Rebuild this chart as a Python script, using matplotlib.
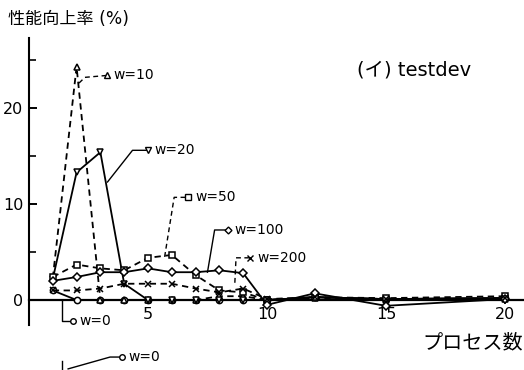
import matplotlib

matplotlib.use("Agg")
import matplotlib.pyplot as plt
from matplotlib.ticker import MultipleLocator

plt.rcParams["font.family"] = ["DejaVu Sans", "Noto Sans CJK JP"]

# process counts and performance gain (%) per window size w
procs = [1, 2, 3, 4, 5, 6, 7, 8, 9, 10, 12, 15, 20]
gain_w0 = [1.0, 0, 0, 0, 0, 0, 0, 0, 0, 0, 0.3, 0.1, 0.2]
gain_w10 = [2.3, 24.3, 0, 0, 0, 0, 0, 0.4, 0.4, 0, 0.2, 0.0, 0.1]
gain_w20 = [2.2, 13.3, 15.4, 1.7, 0, 0, 0, 0, 0, 0, 0.3, 0.1, 0.2]
gain_w50 = [2.4, 3.7, 3.3, 3.1, 4.4, 4.7, 2.6, 1.0, 0.8, 0, 0.3, 0.2, 0.4]
gain_w100 = [2.0, 2.4, 2.9, 2.9, 3.3, 2.9, 2.9, 3.1, 2.8, -0.5, 0.7, -0.6, 0.1]
gain_w200 = [1.0, 1.0, 1.2, 1.7, 1.7, 1.7, 1.2, 0.8, 1.2, 0.1, 0.3, 0.1, 0.2]

series = [
    ("w=0", gain_w0, "o", "-"),
    ("w=10", gain_w10, "^", "--"),
    ("w=20", gain_w20, "v", "-"),
    ("w=50", gain_w50, "s", "--"),
    ("w=100", gain_w100, "D", "-"),
    ("w=200", gain_w200, "x", "--"),
]

# leader line path for each label (start on curve -> bend -> marker)
leaders = {
    "w=0": ([1.4, 1.4, 1.85], [0.0, -2.2, -2.2]),
    "w=10": ([2.1, 2.35, 3.28], [22.6, 23.2, 23.4]),
    "w=20": ([3.3, 4.35, 5.0], [12.3, 15.6, 15.6]),
    "w=50": ([5.7, 6.1, 6.7], [4.5, 10.7, 10.7]),
    "w=100": ([7.5, 7.8, 8.35], [2.9, 7.3, 7.3]),
    "w=200": ([8.65, 8.7, 9.3], [1.8, 4.4, 4.4]),
}

fig = plt.figure(figsize=(5.24, 3.70), dpi=100)
ax = fig.add_axes([0.0553, 0.1216, 0.9447, 0.7757])

dash = (0, (3.5, 2.5))
for label, vals, marker, ls in series:
    style = dash if ls == "--" else "-"
    ax.plot(procs, vals, color="black", lw=1.3, linestyle=style, marker=marker,
            ms=4.5 if marker != "D" else 3.8, mfc="white", mec="black", mew=1.1,
            clip_on=False, zorder=3)
    lx, ly = leaders[label]
    ax.plot(lx, ly, color="black", lw=1.0, linestyle=style, zorder=4)
    ax.plot(lx[-1], ly[-1], marker=marker, ms=4.0 if marker != "D" else 3.5,
            mfc="white", mec="black", mew=1.0, color="black", zorder=5)
    ax.text(lx[-1] + 0.28, ly[-1], label, fontsize=10, va="center", ha="left")

ax.set_xlim(0, 20.8)
ax.set_ylim(-2.6, 27.3)

for side in ("top", "right"):
    ax.spines[side].set_visible(False)
ax.spines["bottom"].set_position(("data", 0))
ax.spines["bottom"].set_linewidth(1.6)
ax.spines["left"].set_linewidth(1.5)

ax.set_xticks([5, 10, 15, 20])
ax.set_yticks([0, 10, 20])
ax.yaxis.set_minor_locator(MultipleLocator(5))
ax.tick_params(axis="y", which="major", direction="in", length=6, width=1.4,
               labelsize=11.5, pad=4)
ax.tick_params(axis="y", which="minor", direction="in", length=5, width=1.2)
ax.tick_params(axis="x", which="major", direction="out", length=3, width=1.2,
               labelsize=11.5, pad=2)

fig.text(0.015, 0.95, "性能向上率 (%)", fontsize=12.3, ha="left", va="center")
fig.text(0.998, 0.073, "プロセス数", fontsize=14.5, ha="right", va="center")
ax.text(13.8, 24.0, "(イ) testdev", fontsize=14, ha="left", va="center")

# fragment of the next panel's label, visible at the bottom edge
fig.add_artist(plt.Line2D([0.118, 0.118], [0.0, 0.025], color="black", lw=1.0))
fig.add_artist(plt.Line2D([0.13, 0.21, 0.228], [0.003, 0.035, 0.035], color="black", lw=1.0))
fig.add_artist(plt.Line2D([0.233], [0.035], marker="o", ms=4.0, mfc="white", mec="black", mew=1.0))
fig.text(0.245, 0.035, "w=0", fontsize=10, ha="left", va="center")

fig.savefig("out.png", dpi=100)
plt.close(fig)
